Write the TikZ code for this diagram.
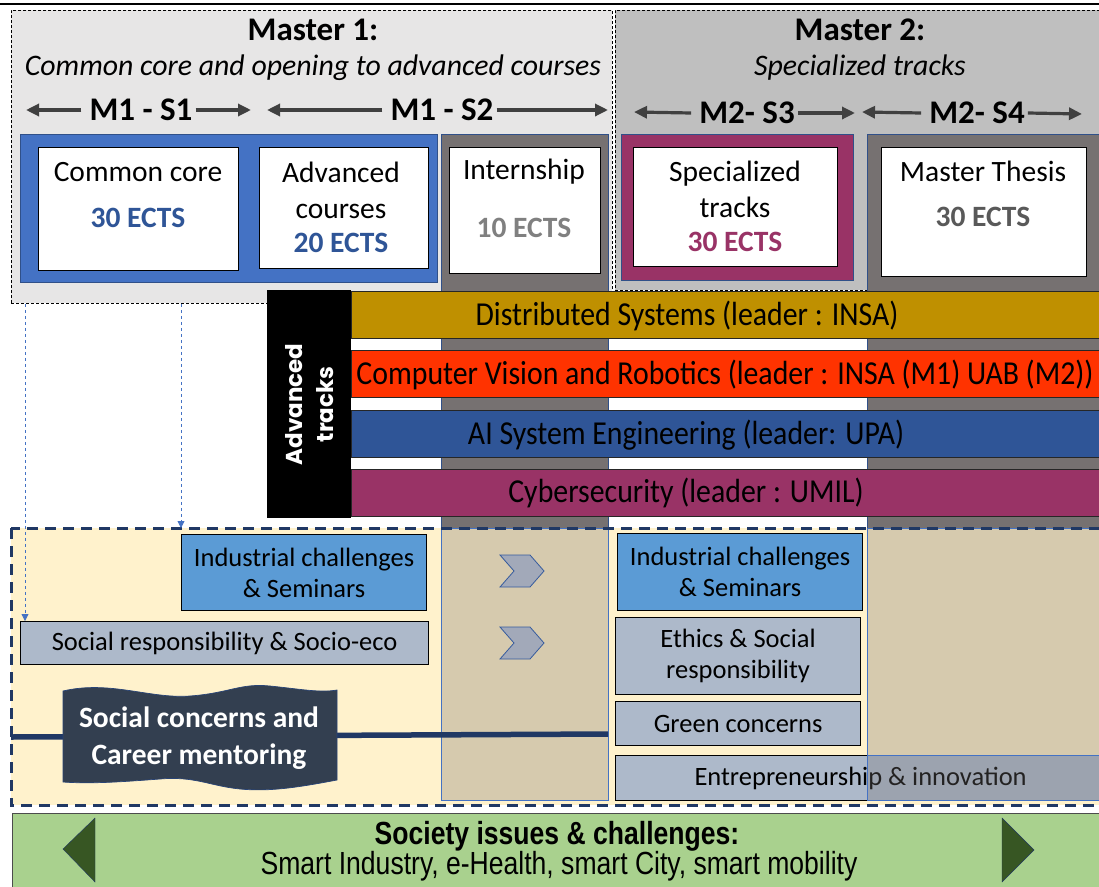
\documentclass[tikz,border=0pt]{standalone}
\usepackage{fontspec}
\setmainfont{Carlito}
\newfontfamily\narrowfont[FakeStretch=0.83]{Liberation Sans}
\newfontfamily\barfont[FakeStretch=0.89]{Carlito}
\newfontfamily\sidefont{Poppins}
\usetikzlibrary{arrows.meta}

\definecolor{mOneGray}{HTML}{E7E6E6}
\definecolor{mTwoGray}{HTML}{BFBFBF}
\definecolor{coreBlue}{HTML}{4472C4}
\definecolor{ectsBlue}{HTML}{2F5597}
\definecolor{colGray}{HTML}{767171}
\definecolor{plum}{HTML}{993366}
\definecolor{gold}{HTML}{BF9000}
\definecolor{visionRed}{HTML}{FF3300}
\definecolor{cream}{HTML}{FFF2CC}
\definecolor{tan}{HTML}{D6CAAE}
\definecolor{seminarBlue}{HTML}{5B9BD5}
\definecolor{slate}{HTML}{ADB9CA}
\definecolor{chevGray}{HTML}{A2A9B9}
\definecolor{navy}{HTML}{203864}
\definecolor{ink}{HTML}{333F50}
\definecolor{leaf}{HTML}{A9D18E}
\definecolor{forest}{HTML}{375623}
\definecolor{arrowGray}{HTML}{404040}

\newcommand\fsz[2]{\fontsize{#1}{#2}\selectfont}

\tikzset{
  area/.style={anchor=north west, inner sep=0, line width=0.7},
  dims/.style 2 args={minimum width=#1, minimum height=#2},
  wbox/.style={area, draw=black, line width=1.2, fill=white},
  cbox/.style={area, draw=black, line width=1.2, font=\fsz{26.5}{31}, align=center},
  bar/.style={area, draw=black!85, line width=1, dims={760}{47}},
  sem/.style={font=\fsz{33}{38}\bfseries, inner sep=0},
  semarrow/.style={draw=arrowGray, line width=3.2, -{Triangle[length=13,width=12]}},
  hint/.style={draw=coreBlue, dashed, line width=0.8, -{Triangle[length=7,width=7]}},
}

\begin{document}
\begin{tikzpicture}[x=1pt,y=-1pt]
\useasboundingbox (0,0) rectangle (1099,886);
\draw[line width=2] (0,4) -- (1099,4);

% Master 1 and Master 2 panels
\node[area, fill=mOneGray, draw=black, densely dashed, line width=0.8, dims={601}{293}] (mone) at (11,10) {};
\node[area, fill=mTwoGray, draw=black, densely dashed, line width=0.8, dims={495}{280}] (mtwo) at (615,10) {};

\node[font=\fsz{33}{38}\bfseries] (mOneTitle) at (313,30) {Master 1:};
\node[font=\fsz{29.8}{34}\itshape] (mOneSub) at (313,68) {Common core and opening to advanced courses};
\node[font=\fsz{33}{38}\bfseries] (mTwoTitle) at (860,30) {Master 2:};
\node[font=\fsz{29.8}{34}\itshape] (mTwoSub) at (860,68) {Specialized tracks};

% semesters
\node[sem] (s1) at (141,110) {M1 - S1};
\node[sem] (s2) at (442,110) {M1 - S2};
\node[sem] (s3) at (747,113) {M2- S3};
\node[sem] (s4) at (977,113) {M2- S4};
\coordinate (s1l) at (26,110);  \coordinate (s1r) at (251,110);
\coordinate (s2l) at (267,110); \coordinate (s2r) at (608,110);
\coordinate (s3l) at (634,112); \coordinate (s3r) at (855,113);
\coordinate (s4l) at (862,112); \coordinate (s4r) at (1082,114);
\foreach \s in {s1,s2,s3,s4}{
  \draw[semarrow] ([xshift=-8]\s.west) -- (\s l);
  \draw[semarrow] ([xshift=3]\s.east) -- (\s r);
}

% semester blocks
\node[area, fill=coreBlue, draw=coreBlue!70!black, dims={417}{148}] (blue) at (20,134) {};
\node[area, fill=colGray, draw=coreBlue!70!black, dims={167}{394}] (internCol) at (441,134) {};
\node[area, fill=plum, draw=coreBlue!70!black, dims={232}{146}] (specCol) at (621,134) {};
\node[area, fill=colGray, draw=coreBlue!70!black, dims={240}{394}] (thesisCol) at (867,134) {};

\node[wbox, dims={200}{123}] (core) at (38,147) {};
\node[wbox, dims={169}{121}] (adv) at (259,147) {};
\node[wbox, dims={151}{126}] (intern) at (449,147) {};
\node[wbox, dims={204}{119}] (spec) at (633,147) {};
\node[wbox, dims={205}{129}] (thesis) at (881,147) {};

\node[font=\fsz{29.5}{36}] (coreT) at (138,172) {Common core};
\node[font=\fsz{29.5}{36}\bfseries, text=ectsBlue] (coreE) at (138,218) {30 ECTS};
\node[font=\fsz{29.5}{36}, align=center] (advT) at (341,190) {Advanced\\courses};
\node[font=\fsz{29.5}{36}\bfseries, text=ectsBlue] (advE) at (341,243) {20 ECTS};
\node[font=\fsz{29.5}{36}] (internT) at (524,172) {Internship};
\node[font=\fsz{29.5}{36}\bfseries, text=black!50] (internE) at (524,228) {10 ECTS};
\node[font=\fsz{29.5}{36}, align=center] (specT) at (735,189) {Specialized\\tracks};
\node[font=\fsz{29.5}{36}\bfseries, text=plum] (specE) at (735,242) {30 ECTS};
\node[font=\fsz{29.5}{36}] (thesisT) at (983,171) {Master Thesis};
\node[font=\fsz{29.5}{36}\bfseries, text=black!65] (thesisE) at (983,217) {30 ECTS};

% advanced tracks
\node[area, fill=black, dims={84}{228}] (advBox) at (267,290) {};
\node[rotate=90, text=white, align=center, font=\sidefont\fsz{23}{31}\bfseries] (advLabel) at (advBox.center) {Advanced\\tracks};
\node[bar, fill=gold] (ds) at (351,291) {};
\node[bar, fill=visionRed] (cv) at (351,350) {};
\node[bar, fill=ectsBlue] (ai) at (351,410) {};
\node[bar, fill=plum] (cy) at (351,469) {};
\node[font=\barfont\fsz{33.5}{38}] (dsT) at (687,316) {Distributed Systems (leader : INSA)};
\node[font=\barfont\fsz{33.5}{38}] (cvT) at (725,375) {Computer Vision and Robotics (leader : INSA (M1) UAB (M2))};
\node[font=\barfont\fsz{33.5}{38}] (aiT) at (686,435) {AI System Engineering (leader: UPA)};
\node[font=\barfont\fsz{33.5}{38}] (cyT) at (686,493) {Cybersecurity (leader : UMIL)};

% transversal courses
\node[area, fill=cream, dims={1088}{277}] (lower) at (11,528) {};
\node[area, fill=tan, draw=coreBlue, dims={167}{272}] (internLow) at (441,528) {};
\node[area, fill=tan, draw=coreBlue, dims={240}{227}] (thesisLow) at (867,528) {};

\node[cbox, fill=seminarBlue, dims={245}{76}] (semL) at (181,534) {Industrial challenges\\\& Seminars};
\node[cbox, fill=slate, dims={408}{43}] (socL) at (20,621) {Social responsibility \& Socio-eco};
\node[cbox, fill=seminarBlue, dims={245}{77}] (semR) at (617,533) {Industrial challenges\\\& Seminars};
\node[cbox, fill=slate, dims={245}{77}] (ethR) at (615,617) {Ethics \& Social\\responsibility};
\node[cbox, fill=slate, dims={245}{44}] (greenR) at (615,701) {Green concerns};
\node[cbox, fill=slate, dims={490}{45}] (entR) at (615,755) {Entrepreneurship \& innovation};
\fill[colGray, fill opacity=0.3] (867,755) rectangle (1105,800);
\draw[coreBlue, line width=0.7] (867,755) rectangle (1105,800);

% chevrons
\foreach \y in {555,627}
  \filldraw[fill=chevGray, draw=coreBlue!80!black, line width=0.8]
    (500,\y) -- (530,\y) -- (544,\y+16) -- (530,\y+32) -- (500,\y+32) -- (514,\y+16) -- cycle;

% mentoring line and wave
\coordinate (lineL) at (11,737);
\coordinate (lineR) at (608,734);
\draw[navy, line width=5.5] (lineL) -- (lineR);
\filldraw[fill=ink, draw=coreBlue!60!black, line width=0.7]
  (63,691) .. controls (110,680) and (150,699) .. (190,696)
  .. controls (230,693) and (240,683) .. (270,686)
  .. controls (300,689) and (320,693) .. (337,690) -- (337,780)
  .. controls (300,787) and (270,792) .. (240,789)
  .. controls (210,786) and (195,776) .. (160,779)
  .. controls (120,782) and (90,784) .. (63,782) -- cycle;
\node[font=\fsz{29.5}{37}\bfseries, text=white, align=center] (mentor) at (199,738) {Social concerns and\\Career mentoring};

\draw[navy, line width=3, dash pattern=on 11pt off 7pt] (lower.north west) rectangle ([xshift=6]lower.south east);

% links from Master 1
\draw[hint] ([xshift=14]mone.south west) -- ([xshift=5]socL.north west);
\draw[hint] ([xshift=170]mone.south west) -- (semL.north west |- lower.north);

% society banner
\node[area, fill=leaf, draw=black!70, line width=1, dims={1095}{80}] (society) at (12,813) {};
\node[font=\narrowfont\fsz{32}{36}\bfseries] (socT) at (557,836) {Society issues \& challenges:};
\node[font=\narrowfont\fsz{32}{36}] (socS) at (559,866) {Smart Industry, e-Health, smart City, smart mobility};
\filldraw[fill=forest, draw=coreBlue!50!black] (63,849) -- (95,818) -- (95,882) -- cycle;
\filldraw[fill=forest, draw=coreBlue!50!black] (1034,850) -- (1002,818) -- (1002,882) -- cycle;
\end{tikzpicture}
\end{document}
